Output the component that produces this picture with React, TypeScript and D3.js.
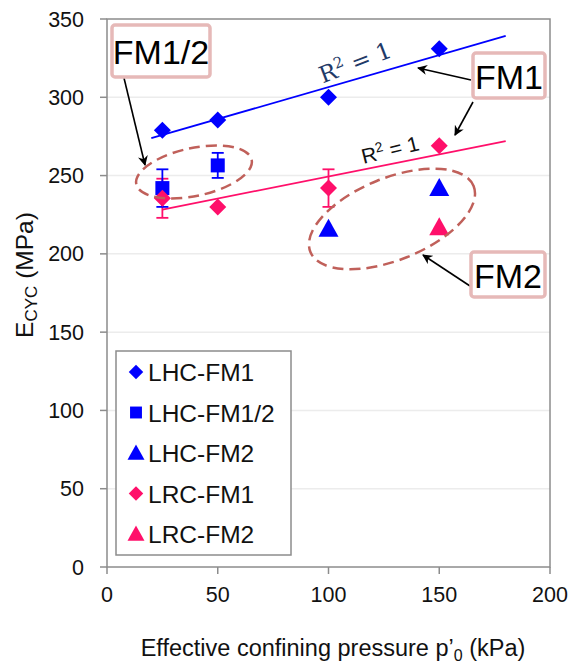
import * as d3 from "d3";

const xTicks = [0, 50, 100, 150, 200];
const yTicks = [0, 50, 100, 150, 200, 250, 300, 350];

// LHC-FM1 (blue diamonds)
const lhcFm1X = [25, 50, 100, 150];
const lhcFm1Y = [279, 285.5, 300, 331];
// LHC-FM1/2 (blue squares with error bars)
const lhcFm12X = [25, 50];
const lhcFm12Y = [242, 256.5];
const lhcFm12Err = [12, 8];
// LHC-FM2 (blue triangles)
const lhcFm2X = [100, 150];
const lhcFm2Y = [216, 242];
// LRC-FM1 (pink diamonds with error bars)
const lrcFm1X = [25, 50, 100, 150];
const lrcFm1Y = [235.5, 230, 242, 269];
const lrcFm1Err = [12.5, 0, 12, 0];
// LRC-FM2 (pink triangles)
const lrcFm2X = [150];
const lrcFm2Y = [217];

const legendLabels = ["LHC-FM1", "LHC-FM1/2", "LHC-FM2", "LRC-FM1", "LRC-FM2"];

const BLUE = "#0000ff";
const PINK = "#ff0f6a";
const FONT = "Liberation Sans, Arial, sans-serif";

// least-squares line, like the Excel trendline
function fit(xs: number[], ys: number[]) {
  const mx = d3.mean(xs)!, my = d3.mean(ys)!;
  let sxy = 0, sxx = 0;
  xs.forEach((x, i) => { sxy += (x - mx) * (ys[i] - my); sxx += (x - mx) ** 2; });
  const b = sxy / sxx;
  return (x: number) => my + b * (x - mx);
}

const Marker = ({ type, x, y, color, s = 1 }: { type: string; x: number; y: number; color: string; s?: number }) => {
  if (type === "diamond") {
    const r = 8.5 * s;
    return <path d={`M${x},${y - r}L${x + r},${y}L${x},${y + r}L${x - r},${y}Z`} fill={color} />;
  }
  if (type === "square") return <rect x={x - 7 * s} y={y - 7 * s} width={14 * s} height={14 * s} fill={color} />;
  return <path d={`M${x},${y - 10 * s}L${x + 10 * s},${y + 8 * s}L${x - 10 * s},${y + 8 * s}Z`} fill={color} />;
};

export default function App() {
  const W = 571, H = 668;
  const left = 107, right = 550, top = 19, bottom = 567;
  const x = d3.scaleLinear().domain([0, 200]).range([left, right]);
  const y = d3.scaleLinear().domain([0, 350]).range([bottom, top]);

  const blueFit = fit(lhcFm1X, lhcFm1Y);
  const pinkFit = fit(lrcFm1X, lrcFm1Y);
  const line = d3.line<number[]>().x(d => x(d[0])).y(d => y(d[1]));

  const errBar = (cx: number, v: number, e: number, color: string, key: string) => (
    <g key={key} stroke={color} strokeWidth={1.8}>
      <line x1={x(cx)} x2={x(cx)} y1={y(v - e)} y2={y(v + e)} />
      <line x1={x(cx) - 6} x2={x(cx) + 6} y1={y(v - e)} y2={y(v - e)} />
      <line x1={x(cx) - 6} x2={x(cx) + 6} y1={y(v + e)} y2={y(v + e)} />
    </g>
  );

  const legendTypes = ["diamond", "square", "triangle", "diamond", "triangle"];
  const legendColors = [BLUE, BLUE, BLUE, PINK, PINK];

  const boxStyle = { fill: "#fff", stroke: "#e6b9b8", strokeWidth: 3.5 };

  return (
    <svg width={W} height={H} style={{ position: "absolute", left: 0, top: 0, background: "#fff" }}>
      <defs>
        <marker id="ah" viewBox="0 0 10 10" refX="9" refY="5" markerWidth="10" markerHeight="10" orient="auto-start-reverse" markerUnits="userSpaceOnUse">
          <path d="M0,0L10,5L0,10L3,5Z" fill="#000" />
        </marker>
      </defs>
      {/* grid */}
      {yTicks.slice(1, -1).map(t => (
        <line key={t} x1={left} x2={right} y1={y(t)} y2={y(t)} stroke="#ececec" strokeWidth={1.5} />
      ))}
      {/* frame */}
      <rect x={left} y={top} width={right - left} height={bottom - top} fill="none" stroke="#8c8c8c" strokeWidth={1.5} />
      {yTicks.map(t => (
        <g key={t}>
          <line x1={left - 7} x2={left} y1={y(t)} y2={y(t)} stroke="#8c8c8c" strokeWidth={1.5} />
          <text x={84} y={y(t) + 7.5} textAnchor="end" fontFamily={FONT} fontSize={21.5} fill="#111">{t}</text>
        </g>
      ))}
      {xTicks.map(t => (
        <g key={t}>
          <line x1={x(t)} x2={x(t)} y1={bottom} y2={bottom + 7} stroke="#8c8c8c" strokeWidth={1.5} />
          <text x={x(t)} y={602} textAnchor="middle" fontFamily={FONT} fontSize={21.5} fill="#111">{t}</text>
        </g>
      ))}
      {/* axis titles */}
      <text transform="translate(33,275) rotate(-90)" textAnchor="middle" fontFamily={FONT} fontSize={24.5} fill="#111">
        E<tspan fontSize={17} dy={4}>CYC</tspan><tspan dy={-4}> (MPa)</tspan>
      </text>
      <text x={333} y={656} textAnchor="middle" fontFamily={FONT} fontSize={23.5} fill="#111">
        Effective confining pressure p’<tspan fontSize={16} dy={5}>0</tspan><tspan dy={-5}> (kPa)</tspan>
      </text>

      {/* trendlines */}
      <path d={line([[20, blueFit(20)], [180, blueFit(180)]])!} stroke={BLUE} strokeWidth={1.8} fill="none" />
      <path d={line([[25, pinkFit(25)], [180, pinkFit(180)]])!} stroke={PINK} strokeWidth={1.8} fill="none" />

      {/* error bars */}
      {lrcFm1X.map((cx, i) => lrcFm1Err[i] > 0 && errBar(cx, lrcFm1Y[i], lrcFm1Err[i], PINK, "p" + i))}
      {lhcFm12X.map((cx, i) => errBar(cx, lhcFm12Y[i], lhcFm12Err[i], BLUE, "b" + i))}

      {/* markers */}
      {lhcFm1X.map((cx, i) => <Marker key={"a" + i} type="diamond" x={x(cx)} y={y(lhcFm1Y[i])} color={BLUE} />)}
      {lhcFm12X.map((cx, i) => <Marker key={"b" + i} type="square" x={x(cx)} y={y(lhcFm12Y[i])} color={BLUE} />)}
      {lhcFm2X.map((cx, i) => <Marker key={"c" + i} type="triangle" x={x(cx)} y={y(lhcFm2Y[i])} color={BLUE} />)}
      {lrcFm1X.map((cx, i) => <Marker key={"d" + i} type="diamond" x={x(cx)} y={y(lrcFm1Y[i])} color={PINK} />)}
      {lrcFm2X.map((cx, i) => <Marker key={"e" + i} type="triangle" x={x(cx)} y={y(lrcFm2Y[i])} color={PINK} />)}

      {/* R² labels */}
      <text transform="translate(358,70) rotate(-21)" textAnchor="middle" fontFamily="DejaVu Serif, serif" fontSize={23} fill="#1f3a68">
        R<tspan fontSize={15} dy={-9}>2</tspan><tspan dy={9}> = 1</tspan>
      </text>
      <text transform="translate(392,157) rotate(-14)" textAnchor="middle" fontFamily={FONT} fontSize={21} fill="#111">
        R<tspan fontSize={14} dy={-8}>2</tspan><tspan dy={8}> = 1</tspan>
      </text>

      {/* dashed ellipses */}
      <ellipse cx={194} cy={172} rx={59} ry={24} transform="rotate(-12,194,172)" fill="none" stroke="#c0605a" strokeWidth={2.5} strokeDasharray="11,6" />
      <ellipse cx={392} cy={219} rx={88} ry={41} transform="rotate(-22,392,219)" fill="none" stroke="#c0605a" strokeWidth={2.5} strokeDasharray="11,6" />

      {/* arrows */}
      <line x1={124} y1={78} x2={145} y2={165} stroke="#000" strokeWidth={1.6} markerEnd="url(#ah)" />
      <line x1={471} y1={80} x2={418} y2={68} stroke="#000" strokeWidth={1.6} markerEnd="url(#ah)" />
      <line x1={473} y1={102} x2={455} y2={135} stroke="#000" strokeWidth={1.6} markerEnd="url(#ah)" />
      <line x1={470} y1={286} x2={423} y2={255} stroke="#000" strokeWidth={1.6} markerEnd="url(#ah)" />

      {/* label boxes */}
      <rect x={112} y={25} width={98} height={52} rx={3} {...boxStyle} />
      <text x={161} y={64} textAnchor="middle" fontFamily={FONT} fontSize={34} fill="#000">FM1/2</text>
      <rect x={473} y={53} width={72} height={45} rx={3} {...boxStyle} />
      <text x={509} y={89} textAnchor="middle" fontFamily={FONT} fontSize={34} fill="#000">FM1</text>
      <rect x={471} y={252} width={74} height={45} rx={3} {...boxStyle} />
      <text x={508} y={288} textAnchor="middle" fontFamily={FONT} fontSize={34} fill="#000">FM2</text>

      {/* legend */}
      <rect x={116} y={351} width={175} height={204} fill="#fff" stroke="#8c8c8c" strokeWidth={1.5} />
      {legendLabels.map((l, i) => {
        const ly = 372 + i * 40.5;
        return (
          <g key={l}>
            <Marker type={legendTypes[i]} x={136} y={ly} color={legendColors[i]} s={0.85} />
            <text x={148} y={ly + 9} fontFamily={FONT} fontSize={24.5} fill="#111">{l}</text>
          </g>
        );
      })}
    </svg>
  );
}
